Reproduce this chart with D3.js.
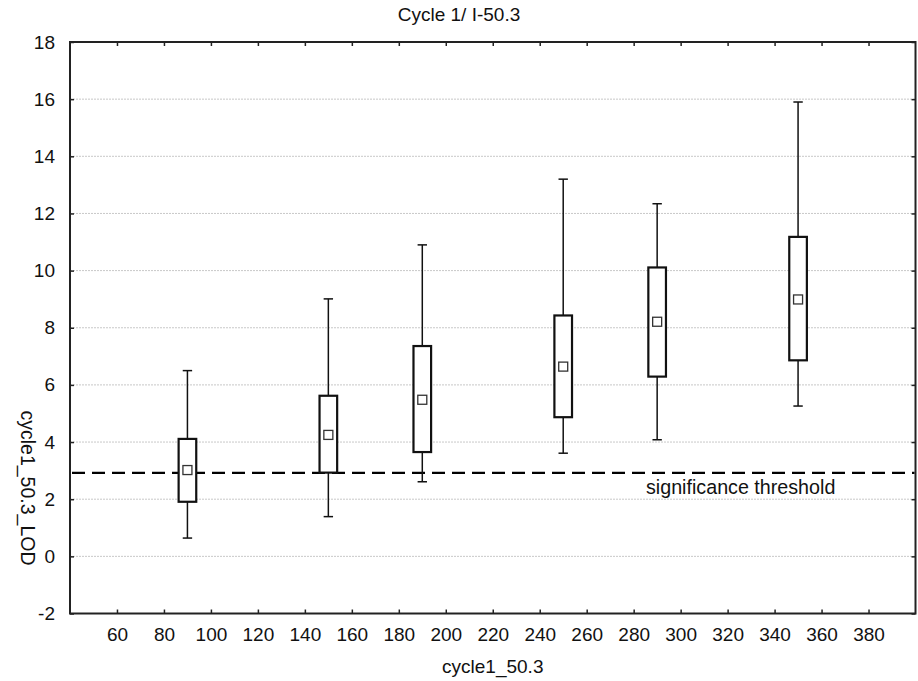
<!DOCTYPE html>
<html>
<head>
<meta charset="utf-8">
<script src="https://cdn.jsdelivr.net/npm/d3@7"></script>
<style>
  html, body { margin: 0; padding: 0; background: #fff; }
  svg { display: block; }
  text { font-family: "Liberation Sans", Arial, sans-serif; fill: #111; }
</style>
</head>
<body>
<svg id="chart" width="918" height="681"></svg>
<script>
// Box-whisker summary of cycle1_50.3_LOD grouped by cycle1_50.3
const groups       = [90, 150, 190, 250, 290, 350];
const whiskerLow   = [0.64, 1.39, 2.61, 3.61, 4.08, 5.26];
const boxLow       = [1.91, 2.93, 3.65, 4.87, 6.29, 6.86];
const means        = [3.02, 4.25, 5.48, 6.64, 8.21, 8.99];
const boxHigh      = [4.11, 5.62, 7.36, 8.43, 10.11, 11.18];
const whiskerHigh  = [6.50, 9.01, 10.90, 13.20, 12.34, 15.90];
const threshold    = 2.92;
const xTicks = [60, 80, 100, 120, 140, 160, 180, 200, 220, 240, 260, 280, 300, 320, 340, 360, 380];
const yTicks = [-2, 0, 2, 4, 6, 8, 10, 12, 14, 16, 18];

const svg = d3.select("#chart");
const W = 918, H = 681;
const m = { left: 70, top: 42, right: 2.5, bottom: 67.5 };

const x = d3.scaleLinear().domain([40, 400]).range([m.left, W - m.right]);
const y = d3.scaleLinear().domain([-2, 18]).range([H - m.bottom, m.top]);

const boxHalf = 3.75;   // half box width in x units
const capHalf = 2;      // half whisker cap width in x units
const fontSize = 19;
const plain = d => String(d);   // keep ASCII hyphen for negatives

// horizontal dotted grid
svg.append("g")
  .selectAll("line")
  .data(yTicks.filter(t => t > -2 && t < 18))
  .join("line")
  .attr("x1", m.left).attr("x2", W - m.right)
  .attr("y1", d => y(d)).attr("y2", d => y(d))
  .attr("stroke", "#c8c8c8").attr("stroke-width", 1)
  .attr("stroke-dasharray", "2,1");

// axes with inward ticks on all four sides
const axisStyle = g => {
  g.select(".domain").remove();
  g.selectAll(".tick line").attr("stroke", "#222").attr("stroke-width", 1.5);
  g.selectAll(".tick text").attr("font-size", fontSize).attr("fill", "#111")
    .attr("font-family", "Liberation Sans, Arial, sans-serif");
};

svg.append("g")
  .attr("transform", `translate(0,${y(-2)})`)
  .call(d3.axisBottom(x).tickValues(xTicks).tickSize(-4).tickPadding(14).tickFormat(plain))
  .call(axisStyle);

svg.append("g")
  .attr("transform", `translate(0,${y(18)})`)
  .call(d3.axisTop(x).tickValues(xTicks).tickSize(-4).tickFormat(""))
  .call(axisStyle);

svg.append("g")
  .attr("transform", `translate(${x(40)},0)`)
  .call(d3.axisLeft(y).tickValues(yTicks).tickSize(-4).tickPadding(15).tickFormat(plain))
  .call(axisStyle);

svg.append("g")
  .attr("transform", `translate(${x(400)},0)`)
  .call(d3.axisRight(y).tickValues(yTicks).tickSize(-4).tickFormat(""))
  .call(axisStyle);

// plot frame
svg.append("rect")
  .attr("x", x(40)).attr("y", y(18))
  .attr("width", x(400) - x(40)).attr("height", y(-2) - y(18))
  .attr("fill", "none").attr("stroke", "#222").attr("stroke-width", 2);

// significance threshold
svg.append("line")
  .attr("x1", x(40) + 2).attr("x2", x(400) - 1)
  .attr("y1", y(threshold)).attr("y2", y(threshold))
  .attr("stroke", "#000").attr("stroke-width", 2.2)
  .attr("stroke-dasharray", "13,7");

svg.append("text")
  .attr("x", 646).attr("y", y(threshold) + 21)
  .attr("font-family", "Lato, 'Open Sans', sans-serif")
  .attr("font-size", 19.7)
  .text("significance threshold");

// boxes and whiskers
const rows = groups.map((g, i) => ({
  g, wl: whiskerLow[i], bl: boxLow[i], mean: means[i], bh: boxHigh[i], wh: whiskerHigh[i]
}));

const bw = svg.append("g").selectAll("g").data(rows).join("g");

bw.append("line")
  .attr("x1", d => x(d.g)).attr("x2", d => x(d.g))
  .attr("y1", d => y(d.wl)).attr("y2", d => y(d.wh))
  .attr("stroke", "#111").attr("stroke-width", 1.5);

bw.append("line")
  .attr("x1", d => x(d.g - capHalf)).attr("x2", d => x(d.g + capHalf))
  .attr("y1", d => y(d.wh)).attr("y2", d => y(d.wh))
  .attr("stroke", "#111").attr("stroke-width", 1.5);

bw.append("line")
  .attr("x1", d => x(d.g - capHalf)).attr("x2", d => x(d.g + capHalf))
  .attr("y1", d => y(d.wl)).attr("y2", d => y(d.wl))
  .attr("stroke", "#111").attr("stroke-width", 1.5);

bw.append("rect")
  .attr("x", d => x(d.g - boxHalf))
  .attr("y", d => y(d.bh))
  .attr("width", d => x(d.g + boxHalf) - x(d.g - boxHalf))
  .attr("height", d => y(d.bl) - y(d.bh))
  .attr("fill", "#fff").attr("stroke", "#111").attr("stroke-width", 2.2);

bw.append("rect")
  .attr("x", d => x(d.g) - 4.5)
  .attr("y", d => y(d.mean) - 4.5)
  .attr("width", 9).attr("height", 9)
  .attr("fill", "#fff").attr("stroke", "#333").attr("stroke-width", 1.3);

// titles
svg.append("text")
  .attr("x", W / 2).attr("y", 21)
  .attr("text-anchor", "middle").attr("font-size", fontSize)
  .text("Cycle 1/ I-50.3");

svg.append("text")
  .attr("x", (x(40) + x(400)) / 2).attr("y", 673)
  .attr("text-anchor", "middle").attr("font-size", fontSize)
  .text("cycle1_50.3");

svg.append("text")
  .attr("transform", "translate(21,488) rotate(90)")
  .attr("text-anchor", "middle").attr("font-size", 19.5)
  .text("cycle1_50.3_LOD");
</script>
</body>
</html>
